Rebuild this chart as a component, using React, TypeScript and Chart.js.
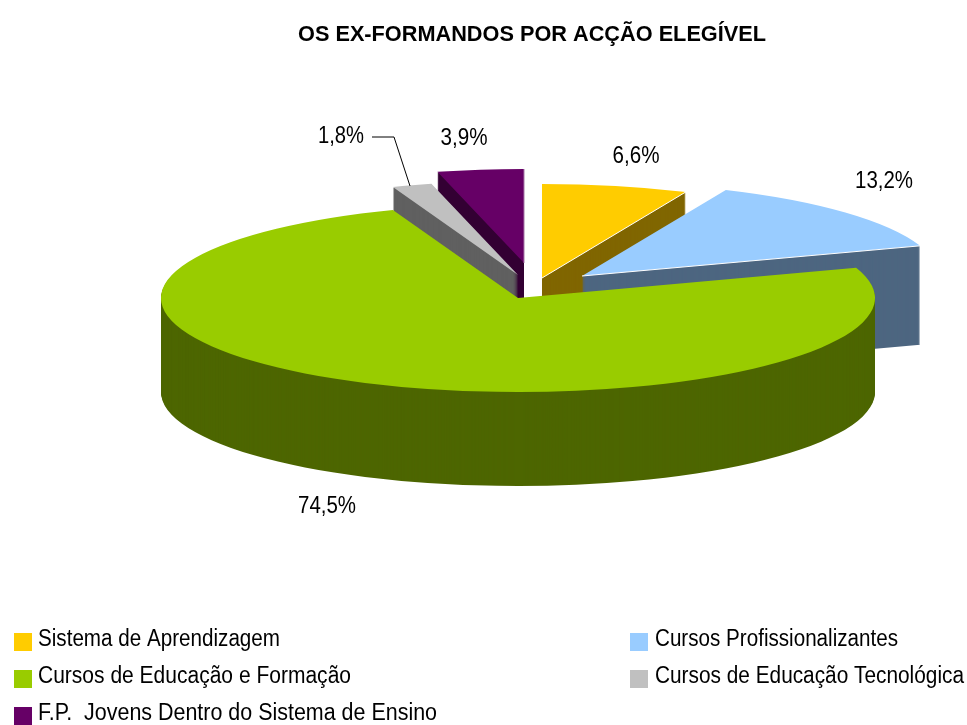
import React, { useEffect, useRef } from "react";
import { Chart, registerables } from "chart.js";

Chart.register(...registerables);

const TITLE = "OS EX-FORMANDOS POR ACÇÃO ELEGÍVEL";
const CATEGORIES = [
  "Sistema de Aprendizagem",
  "Cursos Profissionalizantes",
  "Cursos de Educação e Formação",
  "Cursos de Educação Tecnológica",
  "F.P.  Jovens Dentro do Sistema de Ensino",
];
const VALUES = [6.6, 13.2, 74.5, 1.8, 3.9];
const VALUE_LABELS = ["6,6%", "13,2%", "74,5%", "1,8%", "3,9%"];
const TOP_COLORS = ["#FFCC00", "#99CCFF", "#99CC00", "#C0C0C0", "#660066"];
const SIDE_COLORS = ["#806600", "#4D6680", "#4D6600", "#606060", "#330033"];

// presentation
const CENTER_X = 518;
const CENTER_Y = 298;
const RADIUS = 357;
const SQUASH = 94 / 357;
const DEPTHS = [96, 99, 94, 96, 96];
const EXPLODE_X = [24, 64, 0, 0, 6];
const EXPLODE_Y = [-20, -22, 0, -23, -35];
const DRAW_ORDER = [0, 1, 4, 3, 2];
const LABEL_X = [636, 884, 327, 341, 464];
const LABEL_Y = [157, 182, 507, 137, 139];
const LABEL_W = [47, 58, 58, 46, 47];
const LEGEND_SWATCH_X = [14, 630, 14, 630, 14];
const LEGEND_TEXT_X = [38, 655, 38, 655, 38];
const LEGEND_Y = [633, 633, 670, 670, 707];
const LEGEND_W = [242, 243, 313, 309, 399];
const EDGE_COLORS = ["#FFFFFF", "#FFFFFF", null, null, "#A878A8"];
const FONT = '"Liberation Sans", Arial, sans-serif';

const pie3d = {
  id: "pie3d",
  afterLayout(chart: any) {
    const t = chart.titleBlock;
    t.left = 298;
    t.right = 766;
  },
  beforeDatasetsDraw(chart: any) {
    const ctx = chart.ctx;
    const arcs = chart.getDatasetMeta(0).data;
    const place = (el: any, i: number, drop: number) => {
      ctx.save();
      ctx.translate(CENTER_X + EXPLODE_X[i], CENTER_Y + EXPLODE_Y[i] + drop);
      ctx.scale(1, SQUASH);
      ctx.translate(-el.x, -el.y);
      el.draw(ctx);
      ctx.restore();
    };
    for (const i of DRAW_ORDER) {
      const el = arcs[i];
      const top = el.options;
      el.options = Object.create(top, { backgroundColor: { value: SIDE_COLORS[i] } });
      for (let d = DEPTHS[i]; d >= 1; d--) place(el, i, d);
      el.options = top;
      place(el, i, 0);
      const edge = EDGE_COLORS[i];
      if (edge) {
        const cx = CENTER_X + EXPLODE_X[i];
        const cy = CENTER_Y + EXPLODE_Y[i];
        ctx.save();
        ctx.strokeStyle = edge;
        ctx.lineWidth = 1;
        ctx.beginPath();
        ctx.moveTo(cx, cy);
        ctx.lineTo(
          cx + Math.cos(el.endAngle) * el.outerRadius,
          cy + Math.sin(el.endAngle) * el.outerRadius * SQUASH
        );
        ctx.stroke();
        ctx.restore();
      }
    }
    return false;
  },
  afterDraw(chart: any) {
    const ctx = chart.ctx;
    ctx.save();
    ctx.fillStyle = "#000";
    ctx.textBaseline = "middle";
    ctx.textAlign = "center";
    ctx.font = `23px ${FONT}`;
    VALUE_LABELS.forEach((s, i) => ctx.fillText(s, LABEL_X[i], LABEL_Y[i], LABEL_W[i]));
    // leader line for the small slice
    ctx.strokeStyle = "#000";
    ctx.lineWidth = 1;
    ctx.beginPath();
    ctx.moveTo(372, 137);
    ctx.lineTo(394, 137);
    ctx.lineTo(410, 186);
    ctx.stroke();
    // legend
    ctx.textAlign = "left";
    ctx.font = `23px ${FONT}`;
    CATEGORIES.forEach((s, i) => {
      ctx.fillStyle = TOP_COLORS[i];
      ctx.fillRect(LEGEND_SWATCH_X[i], LEGEND_Y[i], 18, 18);
      ctx.fillStyle = "#000";
      ctx.fillText(s, LEGEND_TEXT_X[i], LEGEND_Y[i] + 7, LEGEND_W[i]);
    });
    ctx.restore();
  },
};

export default function App() {
  const ref = useRef<HTMLCanvasElement>(null);
  useEffect(() => {
    document.body.style.margin = "0";
    const chart = new Chart(ref.current!, {
      type: "pie",
      data: {
        labels: CATEGORIES,
        datasets: [{ data: VALUES, backgroundColor: TOP_COLORS, borderWidth: 0 }],
      },
      options: {
        animation: false,
        responsive: false,
        radius: RADIUS,
        layout: { padding: 0 },
        plugins: {
          legend: { display: false },
          tooltip: { enabled: false },
          title: {
            display: true,
            text: TITLE,
            color: "#000",
            font: { family: FONT, size: 22, weight: "bold" },
            padding: { top: 22, bottom: 10 },
          },
        },
      },
      plugins: [pie3d],
    } as any);
    return () => chart.destroy();
  }, []);
  return <canvas ref={ref} width={967} height={725} style={{ display: "block" }} />;
}
